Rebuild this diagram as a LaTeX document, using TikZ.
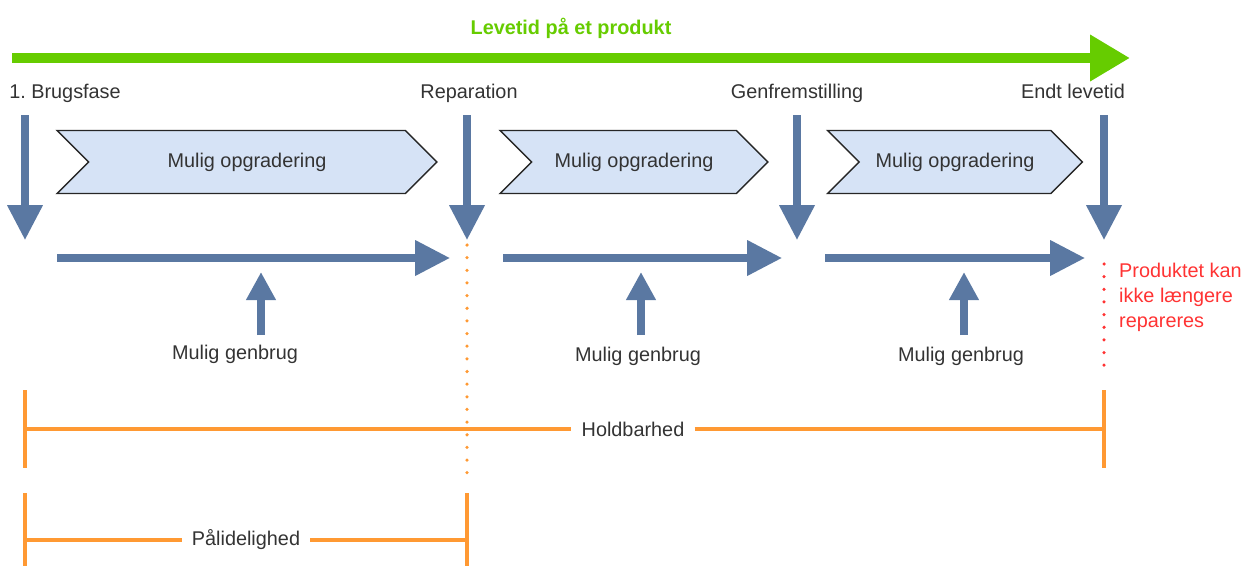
\documentclass[tikz,border=0pt]{standalone}
\usepackage{fontspec}
\setmainfont{Liberation Sans}
\usepackage{xcolor}
\usepackage{tikz}
\usetikzlibrary{arrows.meta, positioning, shapes.symbols}

\definecolor{lifegreen}{HTML}{66CC00}
\definecolor{flowblue}{HTML}{5A78A2}
\definecolor{chevfill}{HTML}{D6E3F6}
\definecolor{spanorange}{HTML}{FF9933}
\definecolor{warnred}{HTML}{FF3333}

\begin{document}
\begin{tikzpicture}[
    x=0.02cm, y=-0.02cm,
    every node/.style={font=\fontsize{11.3}{14.2}\selectfont, text=black!80},
    lifearrow/.style={draw=lifegreen, line width=5.7pt, -{Triangle[length=22.7pt, width=25pt]}},
    flowarrow/.style={draw=flowblue, line width=4pt, -{Triangle[length=19.8pt, width=19.3pt]}},
    reusearrow/.style={draw=flowblue, line width=4pt, -{Triangle[length=16pt, width=16pt]}},
    upgrade/.style={signal, signal from=west, signal to=east, signal pointer angle=90,
        draw=black!85, fill=chevfill, line width=0.8pt, inner sep=0pt, minimum height=1.26cm},
    span/.style={draw=spanorange, line width=2.3pt},
    spanlabel/.style={inner xsep=5.6pt, inner ysep=0pt},
    dotline/.style={line width=2pt, line cap=round, dash pattern=on 0pt off 7.2pt}
]

\useasboundingbox (0,0) rectangle (1241,565);

% Lifetime arrow
\node[font=\fontsize{11.3}{14.2}\selectfont\bfseries, text=lifegreen, anchor=base] (title) at (571,34) {Levetid på et produkt};
\coordinate (lifestart) at (12,58);
\coordinate (lifeend) at (1130,58);
\draw[lifearrow] (lifestart) -- (lifeend);

% Phases
\node[anchor=base] (brug) at (65,98) {1.\ Brugsfase};
\node[anchor=base] (repar) at (469,98) {Reparation};
\node[anchor=base] (genfrem) at (797,98) {Genfremstilling};
\node[anchor=base] (endt) at (1073,98) {Endt levetid};

\coordinate (brugtop) at (25,115);   \coordinate (brugtip) at (25,240);
\coordinate (repartop) at (467,115); \coordinate (repartip) at (467,240);
\coordinate (gentop) at (797,115);   \coordinate (gentip) at (797,240);
\coordinate (endttop) at (1104,115); \coordinate (endttip) at (1104,240);

\draw[flowarrow] (brugtop) -- (brugtip);
\draw[flowarrow] (repartop) -- (repartip);
\draw[flowarrow] (gentop) -- (gentip);
\draw[flowarrow] (endttop) -- (endttip);

% Upgrades
\node[upgrade, minimum width=7.6cm] (upg1) at (247,162) {Mulig opgradering};
\node[upgrade, minimum width=5.36cm] (upg2) at (634,162) {Mulig opgradering};
\node[upgrade, minimum width=5.1cm] (upg3) at (955,162) {Mulig opgradering};

% Use phases
\coordinate (use1a) at (57,258);  \coordinate (use1b) at (450,258);
\coordinate (use2a) at (503,258); \coordinate (use2b) at (782,258);
\coordinate (use3a) at (825,258); \coordinate (use3b) at (1085,258);
\draw[flowarrow] (use1a) -- (use1b);
\draw[flowarrow] (use2a) -- (use2b);
\draw[flowarrow] (use3a) -- (use3b);

% Reuse
\node[anchor=base] (reuse1) at (235,359) {Mulig genbrug};
\node[anchor=base] (reuse2) at (638,361) {Mulig genbrug};
\node[anchor=base] (reuse3) at (961,361) {Mulig genbrug};
\coordinate (reuse1a) at (261,335); \coordinate (reuse1b) at (261,272);
\coordinate (reuse2a) at (641,335); \coordinate (reuse2b) at (641,272);
\coordinate (reuse3a) at (964,335); \coordinate (reuse3b) at (964,272);
\draw[reusearrow] (reuse1a) -- (reuse1b);
\draw[reusearrow] (reuse2a) -- (reuse2b);
\draw[reusearrow] (reuse3a) -- (reuse3b);

% End of life
\node[text=warnred, align=left, anchor=west] (norepair) at (1113,297) {Produktet kan\\ikke længere\\repareres};
\coordinate (redtop) at (1104,264);
\coordinate (redbot) at (1104,368);
\draw[dotline, warnred] (redtop) -- (redbot);

% Reliability marker
\coordinate (orangetop) at (467,245);
\coordinate (orangebot) at (467,485);
\draw[dotline, spanorange] (orangetop) -- (orangebot);

% Durability
\coordinate (holdLt) at (25,390);   \coordinate (holdLb) at (25,468);
\coordinate (holdRt) at (1104,390); \coordinate (holdRb) at (1104,468);
\coordinate (holdL) at (25,429);    \coordinate (holdR) at (1104,429);
\node[spanlabel] (holdlabel) at (633,429) {Holdbarhed};
\draw[span] (holdLt) -- (holdLb);
\draw[span] (holdRt) -- (holdRb);
\draw[span] (holdL) -- (holdlabel);
\draw[span] (holdlabel) -- (holdR);

% Reliability
\coordinate (paliLt) at (25,493);  \coordinate (paliLb) at (25,570);
\coordinate (paliRt) at (467,493); \coordinate (paliRb) at (467,570);
\coordinate (paliL) at (25,540);   \coordinate (paliR) at (467,540);
\node[spanlabel] (palilabel) at (246,540) {Pålidelighed};
\draw[span] (paliLt) -- (paliLb);
\draw[span] (paliRt) -- (paliRb);
\draw[span] (paliL) -- (palilabel);
\draw[span] (palilabel) -- (paliR);

\end{tikzpicture}
\end{document}
